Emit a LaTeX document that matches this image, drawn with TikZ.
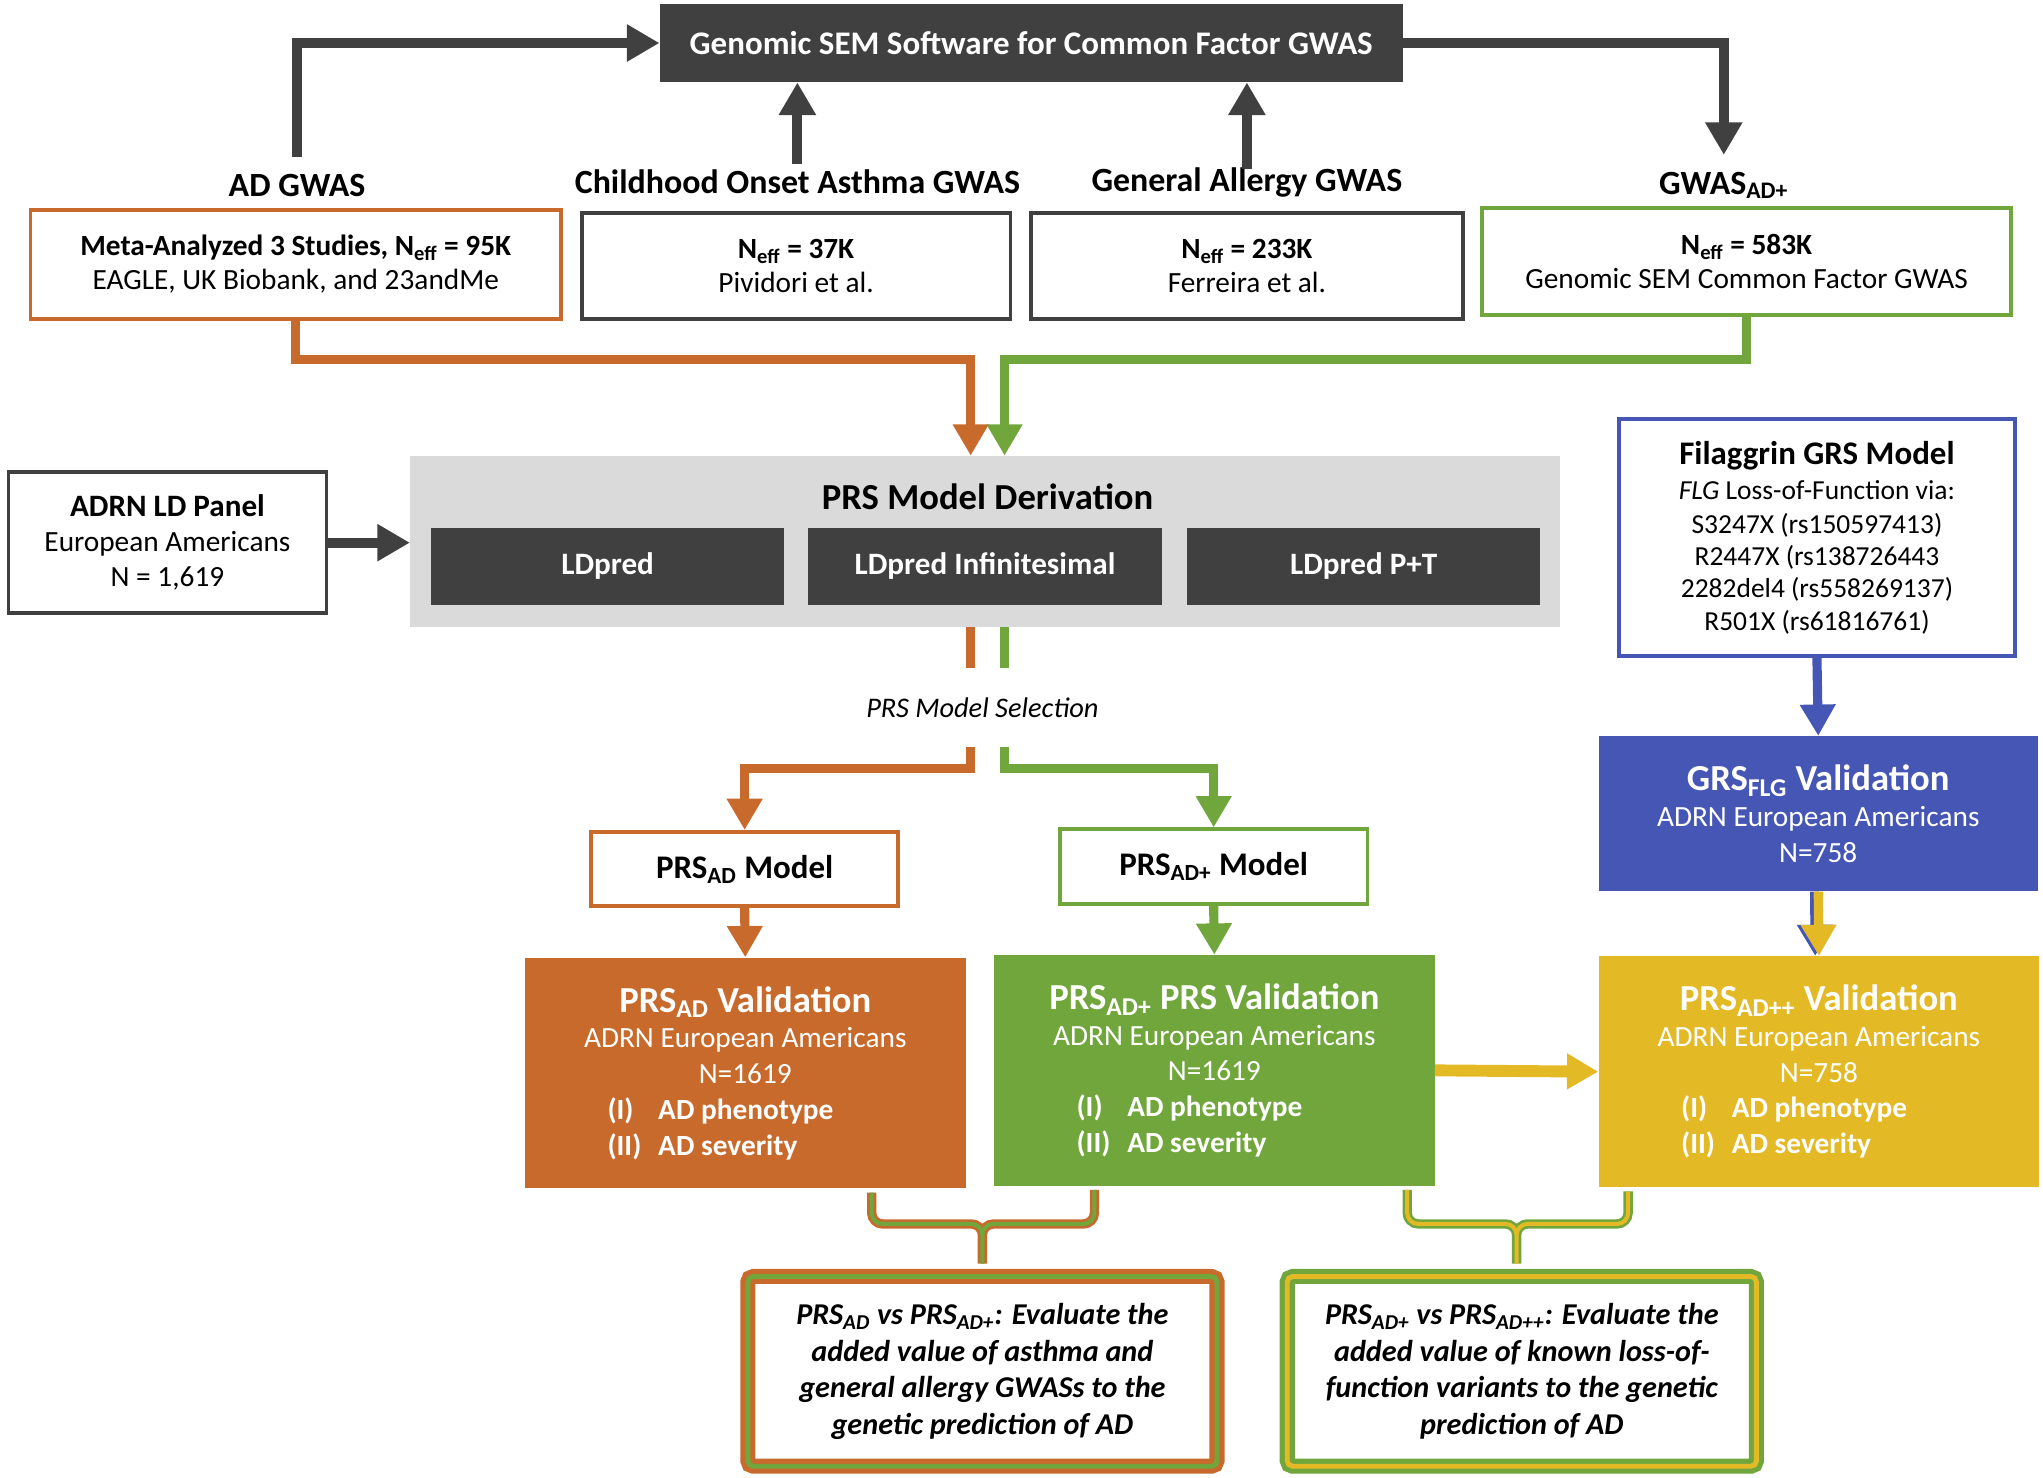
\documentclass[tikz,border=0pt]{standalone}
\usepackage{fontspec}
\setmainfont{Carlito}
\usetikzlibrary{arrows.meta,positioning}
\definecolor{darkC}{RGB}{64,64,64}
\definecolor{panelC}{RGB}{218,218,218}
\definecolor{orangeC}{RGB}{199,106,44}
\definecolor{greenC}{RGB}{112,166,59}
\definecolor{yellowC}{RGB}{228,185,38}
\definecolor{blueC}{RGB}{70,86,180}
% one indented line of the validation lists
\newcommand{\caseline}[2]{\makebox[9.4em][l]{\bfseries\makebox[1.73em][l]{#1}#2}}

\begin{document}
\begin{tikzpicture}[x=0.025cm, y=-0.025cm,
  darkbox/.style={fill=darkC, text=white, font=\bfseries\fontsize{18}{22}\selectfont},
  ldbox/.style={fill=darkC, text=white, minimum width=6.775cm, minimum height=1.475cm, font=\bfseries\fontsize{17}{20}\selectfont},
  gtitle/.style={anchor=base, inner sep=0pt, text height=0.7em, font=\bfseries\fontsize{18.5}{22}\selectfont},
  srcbox/.style={draw=darkC, line width=2.1pt, fill=white, align=center, font=\fontsize{16}{18.5}\selectfont},
  modelbox/.style={draw, line width=2.1pt, fill=white, minimum width=5.9cm, minimum height=1.425cm, font=\bfseries\fontsize{18}{22}\selectfont},
  validbox/.style={text=white, align=center, minimum width=8.45cm, minimum height=4.425cm, font=\fontsize{16}{19.5}\selectfont},
  cmpbox/.style={align=center, rounded corners=3pt, minimum width=9cm, minimum height=3.64cm, font=\bfseries\itshape\fontsize{16.5}{20}\selectfont},
  darkarrow/.style={draw=darkC, line width=5.5pt, -{Triangle[width=0.675cm,length=0.625cm]}},
  colarrow/.style={line width=5pt, -{Triangle[width=0.65cm,length=0.6cm]}},
  colline/.style={line width=5pt}
]
\useasboundingbox (0,0) rectangle (1568,1134);

% common factor GWAS
\node (sem) [darkbox, minimum width=14.25cm, minimum height=1.5cm] at (791.5,33) {Genomic SEM Software for Common Factor GWAS};

\node (adtitle) [gtitle] at (228,151) {AD GWAS};
\node (asthtitle) [gtitle] at (612,148.5) {Childhood Onset Asthma GWAS};
\node (allergytitle) [gtitle] at (957,147) {General Allergy GWAS};
\node (plustitle) [gtitle] at (1323,149) {GWAS\textsubscript{AD+}};

\node (adbox) [srcbox, draw=orangeC, minimum width=10.175cm, minimum height=2.075cm] at (227,203) {\textbf{Meta-Analyzed 3 Studies, N\textsubscript{eff} = 95K}\\EAGLE, UK Biobank, and 23andMe};
\node (asthbox) [srcbox, minimum width=8.225cm, minimum height=2.025cm] at (611,204) {\textbf{N\textsubscript{eff} = 37K}\\Pividori et al.};
\node (allergybox) [srcbox, minimum width=8.275cm, minimum height=2.025cm] at (957,204) {\textbf{N\textsubscript{eff} = 233K}\\Ferreira et al.};
\node (plusbox) [srcbox, draw=greenC, minimum width=10.15cm, minimum height=2.05cm] at (1340.5,200.5) {\textbf{N\textsubscript{eff} = 583K}\\Genomic SEM Common Factor GWAS};

\draw[darkarrow] ([yshift=0.5cm]adtitle.north) |- (sem.west);
\draw[darkarrow] ([yshift=0.32cm]asthtitle.north) -- (asthtitle.north |- sem.south);
\draw[darkarrow] ([yshift=0.17cm]allergytitle.north) -- (allergytitle.north |- sem.south);
\draw[darkarrow] (sem.east) -| ([yshift=0.5cm]plustitle.north);

% PRS model derivation
\node (deriv) [fill=panelC, minimum width=22.05cm, minimum height=3.275cm] at (756,415.5) {};
\node (derivtitle) [font=\bfseries\fontsize{20}{24}\selectfont] at (758,381) {PRS Model Derivation};
\node (ldp2) [ldbox] at (756,434.5) {LDpred Infinitesimal};
\node (ldp1) [ldbox, left=0.45cm of ldp2] {LDpred};
\node (ldp3) [ldbox, right=0.475cm of ldp2] {LDpred P+T};

\node (ldpanel) [srcbox, minimum width=6.1cm, minimum height=2.7cm, font=\fontsize{16}{19.2}\selectfont] at (128.5,416.5) {{\bfseries\fontsize{17}{20}\selectfont ADRN LD Panel}\\European Americans\\N = 1,619};
\draw[darkarrow] (ldpanel.east) -- (ldpanel.east -| deriv.west);

\draw[colarrow, orangeC] (adbox.south) -- ++(0,30) -| ([xshift=-0.275cm]deriv.north);
\draw[colarrow, greenC] (plusbox.south) -- ++(0,33) -| ([xshift=0.375cm]deriv.north);

% model selection
\node (sel) [font=\itshape\fontsize{15.5}{18}\selectfont] at (754,543) {PRS Model Selection};
\coordinate (orsel) at (745,573);
\coordinate (grsel) at (771,573);
\draw[colline, orangeC] ([xshift=-0.275cm]deriv.south) -- ++(0,31);
\draw[colline, greenC] ([xshift=0.375cm]deriv.south) -- ++(0,31);

\node (admodel) [modelbox, draw=orangeC] at (571.5,667) {PRS\textsubscript{AD} Model};
\node (plusmodel) [modelbox, draw=greenC] at (931.5,665) {PRS\textsubscript{AD+} Model};
\draw[colarrow, orangeC] (orsel) -- ++(0,17) -| (admodel.north);
\draw[colarrow, greenC] (grsel) -- ++(0,17) -| (plusmodel.north);

% validation
\node (advalid) [validbox, fill=orangeC] at (572,823.5) {{\bfseries\fontsize{20}{24}\selectfont PRS\textsubscript{AD} Validation}\\ADRN European Americans\\N=1619\\\caseline{(I)}{AD phenotype}\\\caseline{(II)}{AD severity}};
\node (plusvalid) [validbox, fill=greenC] at (932,821.5) {{\bfseries\fontsize{20}{24}\selectfont PRS\textsubscript{AD+} PRS Validation}\\ADRN European Americans\\N=1619\\\caseline{(I)}{AD phenotype}\\\caseline{(II)}{AD severity}};
\node (ppvalid) [validbox, fill=yellowC] at (1396,822.5) {{\bfseries\fontsize{20}{24}\selectfont PRS\textsubscript{AD++} Validation}\\ADRN European Americans\\N=758\\\caseline{(I)}{AD phenotype}\\\caseline{(II)}{AD severity}};

\draw[colarrow, orangeC] (admodel.south) -- (advalid.north);
\draw[colarrow, greenC] (plusmodel.south) -- (plusvalid.north);
\draw[colarrow, yellowC, line width=6.5pt] (plusvalid.east) -- (ppvalid.west);

% filaggrin
\node (flg) [srcbox, draw=blueC, minimum width=7.6cm, minimum height=4.55cm, font=\fontsize{15}{17.5}\selectfont] at (1394.5,412.5) {{\bfseries\fontsize{18}{21}\selectfont Filaggrin GRS Model}\\[1.5pt]\textit{FLG} Loss-of-Function via:\\[1.5pt]S3247X (rs150597413)\\R2447X (rs138726443\\2282del4 (rs558269137)\\R501X (rs61816761)};
\node (grsvalid) [validbox, fill=blueC, minimum width=8.425cm, minimum height=2.975cm] at (1395.5,624.5) {{\bfseries\fontsize{20}{24}\selectfont GRS\textsubscript{FLG} Validation}\\ADRN European Americans\\N=758};
\draw[colarrow, blueC] (flg.south) -- (grsvalid.north);
\draw[colarrow, blueC] ([xshift=-2pt]grsvalid.south) -- ([xshift=-2pt]ppvalid.north);
\draw[colarrow, yellowC] (grsvalid.south) -- (ppvalid.north);

% comparisons
\node (cmpA) [cmpbox, draw=greenC, line width=2.7pt, preaction={fill=white, draw=orangeC, line width=8.2pt}] at (754,1052.5) {PRS\textsubscript{AD} vs PRS\textsubscript{AD+}: Evaluate the\\added value of asthma and\\general allergy GWASs to the\\genetic prediction of AD};
\node (cmpB) [cmpbox, draw=yellowC, line width=2.7pt, preaction={fill=white, draw=greenC, line width=8.2pt}] at (1168,1052.5) {PRS\textsubscript{AD+} vs PRS\textsubscript{AD++}: Evaluate the\\added value of known loss-of-\\function variants to the genetic\\prediction of AD};

\draw[greenC, line width=2.2pt, rounded corners=6pt, preaction={draw=orangeC, line width=5.1pt}]
  ([xshift=2.425cm,yshift=-0.075cm]advalid.south) |- ([yshift=0.96cm]cmpA.north) -- ([yshift=0.2cm]cmpA.north)
  ([xshift=-2.3cm,yshift=-0.075cm]plusvalid.south) |- ([yshift=0.96cm]cmpA.north) -- ([yshift=0.2cm]cmpA.north);
\draw[yellowC, line width=2.2pt, rounded corners=6pt, preaction={draw=greenC, line width=5.1pt}]
  ([xshift=3.7cm,yshift=-0.075cm]plusvalid.south) |- ([xshift=-0.1cm,yshift=0.96cm]cmpB.north) -- ([xshift=-0.1cm,yshift=0.2cm]cmpB.north)
  ([xshift=-3.66cm,yshift=-0.075cm]ppvalid.south) |- ([xshift=-0.1cm,yshift=0.96cm]cmpB.north) -- ([xshift=-0.1cm,yshift=0.2cm]cmpB.north);
\end{tikzpicture}
\end{document}
